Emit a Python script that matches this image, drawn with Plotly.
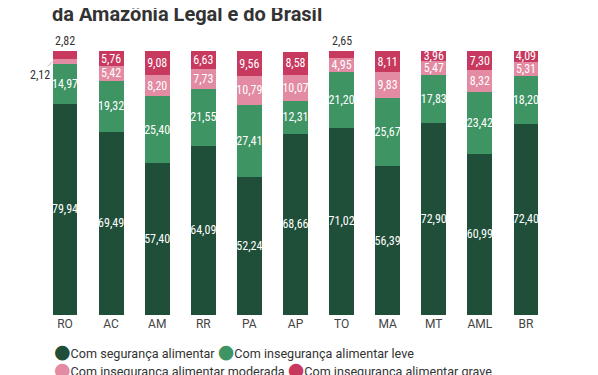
import plotly.graph_objects as go

categories = ["RO", "AC", "AM", "RR", "PA", "AP", "TO", "MA", "MT", "AML", "BR"]
seg_seguranca = [79.94, 69.49, 57.40, 64.09, 52.24, 68.66, 71.02, 56.39, 72.90, 60.99, 72.40]
seg_leve = [14.97, 19.32, 25.40, 21.55, 27.41, 12.31, 21.20, 25.67, 17.83, 23.42, 18.20]
seg_moderada = [2.12, 5.42, 8.20, 7.73, 10.79, 10.07, 4.95, 9.83, 5.47, 8.32, 5.31]
seg_grave = [2.82, 5.76, 9.08, 6.63, 9.56, 8.58, 2.65, 8.11, 3.96, 7.30, 4.09]

series_names = [
    "Com segurança alimentar",
    "Com insegurança alimentar leve",
    "Com insegurança alimentar moderada",
    "Com insegurança alimentar grave",
]
series_values = [seg_seguranca, seg_leve, seg_moderada, seg_grave]
colors = ["#1f4e39", "#3f9463", "#e38ba3", "#c8395f"]

title_text = "da Amazônia Legal e do Brasil"

LABEL_FONT = "Liberation Sans Narrow, Arial Narrow, Roboto Condensed, Roboto, sans-serif"
TEXT_FONT = "Roboto, Lato, sans-serif"


def fmt(v):
    return f"{v:.2f}".replace(".", ",")


fig = go.Figure()
for name, vals, col in zip(series_names, series_values, colors):
    fig.add_trace(go.Bar(
        x=categories, y=vals, name=name,
        marker=dict(color=col, line=dict(width=0)),
        text=[fmt(v) if v >= 3 else "" for v in vals],
        textposition="inside", insidetextanchor="middle", textangle=0,
        constraintext="none",
        textfont=dict(family=LABEL_FONT, size=12, color="white"),
        showlegend=False, hoverinfo="skip",
    ))

# outside labels for the small segments
for i, cat in enumerate(categories):
    total = seg_seguranca[i] + seg_leve[i] + seg_moderada[i] + seg_grave[i]
    if seg_grave[i] < 3:
        fig.add_annotation(x=cat, y=total, text=fmt(seg_grave[i]), showarrow=False,
                           yanchor="bottom", yshift=1,
                           font=dict(family=LABEL_FONT, size=12, color="#333333"))
    if seg_moderada[i] < 3:
        ymid = seg_seguranca[i] + seg_leve[i] + seg_moderada[i] / 2
        fig.add_annotation(x=cat, y=ymid, text=fmt(seg_moderada[i]), showarrow=True,
                           arrowhead=0, arrowwidth=0.8, arrowcolor="#aaaaaa",
                           ax=-13, ay=13, xshift=-12.5,
                           font=dict(family=LABEL_FONT, size=12, color="#333333"))

# legend rows (flowing, as in the reference)
def legend_item(name, col):
    return (f"<span style='color:{col};font-family:DejaVu Sans;font-size:19px'>●</span>"
            f"{name}")

row1 = " ".join(legend_item(n, c) for n, c in zip(series_names[:2], colors[:2]))
row2 = " ".join(legend_item(n, c) for n, c in zip(series_names[2:], colors[2:]))
for txt, yy in [(row1, -0.1345), (row2, -0.2045)]:
    fig.add_annotation(xref="paper", yref="paper", x=0.0197, y=yy, xanchor="left",
                       yanchor="middle", text=txt, showarrow=False, align="left",
                       font=dict(family=TEXT_FONT, size=12.6, color="#333333"))

fig.update_layout(
    width=598, height=375,
    margin=dict(l=34, r=57, t=43, b=68, autoexpand=False),
    paper_bgcolor="white", plot_bgcolor="white",
    barmode="stack", bargap=0.46, showlegend=False,
    font=dict(family=TEXT_FONT, color="#333333"),
    title=dict(text="<b>" + title_text + "</b>", x=44 / 598, xanchor="left",
               xref="container", yref="container", y=1 - 6 / 375, yanchor="middle",
               font=dict(family=TEXT_FONT, size=20, color="#333333")),
    xaxis=dict(range=[-0.5, 10.5], autorange=False, showline=False, showgrid=False,
               zeroline=False, ticks="",
               tickfont=dict(family=TEXT_FONT, size=12, color="#444444")),
    yaxis=dict(range=[0, 100], autorange=False, visible=False),
)

fig.write_html("out.html")
